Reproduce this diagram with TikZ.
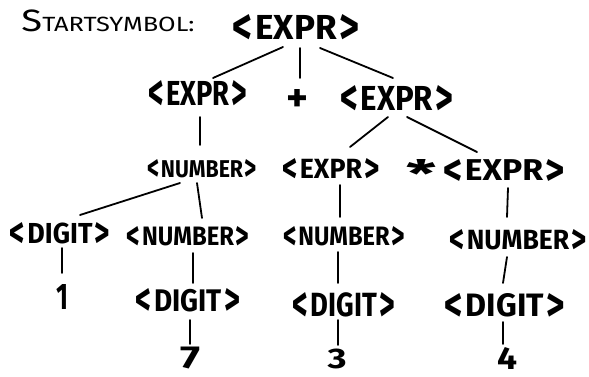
\documentclass[tikz,border=0pt]{standalone}
\usepackage{fontspec}
\setmainfont{Fira Sans}
\usepackage{graphicx}
\newcommand{\chv}[1]{\raisebox{-0.14em}{\scalebox{1.1}[1.5]{#1}}}
\newcommand{\nt}[3]{\resizebox*{#1pt}{#2pt}{\bfseries\chv{<}\kern0.08em#3\kern0.08em\chv{>}}}
\newcommand{\tx}[3]{\resizebox*{#1pt}{#2pt}{\bfseries #3}}
\begin{document}
\begin{tikzpicture}[x=1pt,y=-1pt,
  every node/.style={inner sep=0pt,outer sep=0pt},
  edge/.style={line width=1.8pt,line cap=round}]
\useasboundingbox (0,0) rectangle (589,377);
\node (start) at (108,21) {\resizebox*{173pt}{22pt}{\fontsize{24}{24}\selectfont S\fontsize{16}{16}\selectfont TARTSYMBOL:}};
\node (root) at (296,29) {\nt{127}{30}{EXPR}};
\node (e1) at (198,95) {\nt{99}{30}{EXPR}};
\node (plus) at (297,100) {\tx{22}{22}{+}};
\node (e2) at (397,100) {\nt{113}{30}{EXPR}};
\node (n1) at (202,170) {\nt{110}{21}{NUMBER}};
\node (e3) at (331,170) {\nt{97}{24}{EXPR}};
\node (star) at (422,173) {\tx{30}{28}{*}};
\node (e4) at (504,172) {\nt{122}{26}{EXPR}};
\node (d1) at (60,235) {\nt{100}{25}{DIGIT}};
\node (n2) at (188,238) {\nt{123}{23}{NUMBER}};
\node (n3) at (344,238) {\nt{122}{23}{NUMBER}};
\node (n4) at (518,241) {\nt{137}{24}{NUMBER}};
\node (one) at (62,297) {\tx{12}{25}{1}};
\node (d2) at (188,302) {\nt{104}{27}{DIGIT}};
\node (d3) at (344,307) {\nt{102}{29}{DIGIT}};
\node (d4) at (505,307) {\nt{120}{28}{DIGIT}};
\node (seven) at (190,358) {\tx{20}{22}{7}};
\node (three) at (337,359) {\tx{19}{20}{3}};
\node (four) at (507,358) {\tx{20}{22}{4}};
\draw[edge] ([shift={(-13,18)}]root.center) -- ([shift={(15,-17)}]e1.center);
\draw[edge] ([shift={(4,19)}]root.center) -- ([shift={(3,-22)}]plus.center);
\draw[edge] ([shift={(24,19)}]root.center) -- ([shift={(-4,-22)}]e2.center);
\draw[edge] ([shift={(2,22)}]e1.center) -- ([shift={(-2,-25)}]n1.center);
\draw[edge] ([shift={(-9,17)}]e2.center) -- ([shift={(19,-23)}]e3.center);
\draw[edge] ([shift={(10,17)}]e2.center) -- ([shift={(-27,-20)}]e4.center);
\draw[edge] ([shift={(-22,13)}]n1.center) -- ([shift={(20,-20)}]d1.center);
\draw[edge] ([shift={(-5,13)}]n1.center) -- ([shift={(14,-20)}]n2.center);
\draw[edge] ([shift={(9,15)}]e3.center) -- ([shift={(-4,-21)}]n3.center);
\draw[edge] ([shift={(4,16)}]e4.center) -- ([shift={(-11,-24)}]n4.center);
\draw[edge] ([shift={(2,13)}]d1.center) -- ([shift={(0,-24)}]one.center);
\draw[edge] ([shift={(5,15)}]n2.center) -- ([shift={(5,-19)}]d2.center);
\draw[edge] ([shift={(-6,14)}]n3.center) -- ([shift={(-6,-24)}]d3.center);
\draw[edge] ([shift={(-11,16)}]n4.center) -- ([shift={(-2,-24)}]d4.center);
\draw[edge] ([shift={(2,18)}]d2.center) -- ([shift={(0,-14)}]seven.center);
\draw[edge] ([shift={(-6,13)}]d3.center) -- ([shift={(1,-14)}]three.center);
\draw[edge] ([shift={(-2,15)}]d4.center) -- ([shift={(-4,-14)}]four.center);
\end{tikzpicture}
\end{document}
